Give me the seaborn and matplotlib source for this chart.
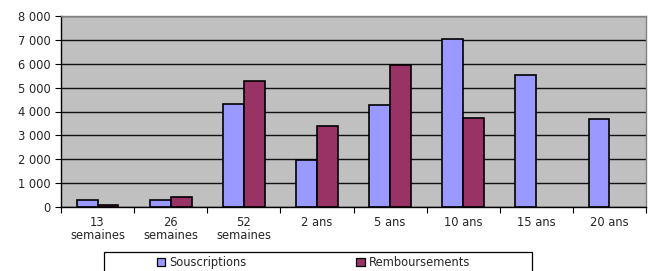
import numpy as np
import pandas as pd
import matplotlib
matplotlib.use("Agg")
import matplotlib.pyplot as plt
from matplotlib.patches import Rectangle
from matplotlib.ticker import FuncFormatter, FixedLocator
import seaborn as sns

categories = ["13\nsemaines", "26\nsemaines", "52\nsemaines", "2 ans", "5 ans",
              "10 ans", "15 ans", "20 ans"]
souscriptions = [280, 280, 4300, 1950, 4270, 7040, 5520, 3700]
remboursements = [80, 430, 5280, 3380, 5940, 3740, np.nan, np.nan]
series_names = ["Souscriptions", "Remboursements"]
colors = ["#9999FF", "#993366"]

df = pd.DataFrame({
    "cat": categories * 2,
    "val": souscriptions + remboursements,
    "serie": [series_names[0]] * len(categories) + [series_names[1]] * len(categories),
})

sns.set_style("white")
plt.rcParams["font.family"] = ["DejaVu Sans"]
FS = 8.3

W, H = 653, 271
fig = plt.figure(figsize=(W / 100, H / 100), dpi=100)
ax = fig.add_axes([61 / W, 1 - 207 / H, 585 / W, 191 / H])
ax.set_facecolor("#C0C0C0")

sns.barplot(data=df, x="cat", y="val", hue="serie", hue_order=series_names,
            palette=colors, width=0.572, gap=0, edgecolor="black", linewidth=1.2,
            saturation=1, ax=ax, legend=False, errorbar=None)

ax.set_ylim(0, 8000)
ax.set_xlim(-0.5, len(categories) - 0.5)
ax.set_yticks(np.arange(0, 8001, 1000))
ax.yaxis.set_major_formatter(FuncFormatter(lambda v, p: f"{int(v):,}".replace(",", " ")))
ax.grid(axis="y", color="#111111", linewidth=1)
ax.set_axisbelow(True)
ax.set_xlabel("")
ax.set_ylabel("")

ax.xaxis.set_minor_locator(FixedLocator(np.arange(-0.5, len(categories), 1.0)))
ax.tick_params(axis="x", which="major", length=0, pad=6.5, labelsize=FS)
ax.tick_params(axis="x", which="minor", length=4, width=0.8, color="black", direction="out", bottom=True)
ax.tick_params(axis="y", which="major", length=4, width=0.8, color="black", direction="out",
               left=True, labelsize=FS, pad=3.5)
for lab in ax.get_xticklabels():
    lab.set_linespacing(1.0)

for s in ["left", "bottom"]:
    ax.spines[s].set_color("black")
    ax.spines[s].set_linewidth(1)
for s in ["top", "right"]:
    ax.spines[s].set_color("#808080")
    ax.spines[s].set_linewidth(1)

# Legend box
fig.patches.append(Rectangle((104 / W, 1 - 280 / H), 428 / W, 28 / H,
                             transform=fig.transFigure, facecolor="white",
                             edgecolor="black", linewidth=0.9, zorder=1))
handles = [Rectangle((0, 0), 1, 1, facecolor=c, edgecolor="black", linewidth=0.9) for c in colors]
leg = fig.legend(handles, series_names, loc="center left", ncol=2,
                 bbox_to_anchor=(157 / W, 1 - 262.5 / H), frameon=False,
                 handlelength=0.7, handleheight=0.7, handletextpad=0.4,
                 columnspacing=9.5, fontsize=FS, borderpad=0, borderaxespad=0)

fig.savefig("out.png", dpi=100)
